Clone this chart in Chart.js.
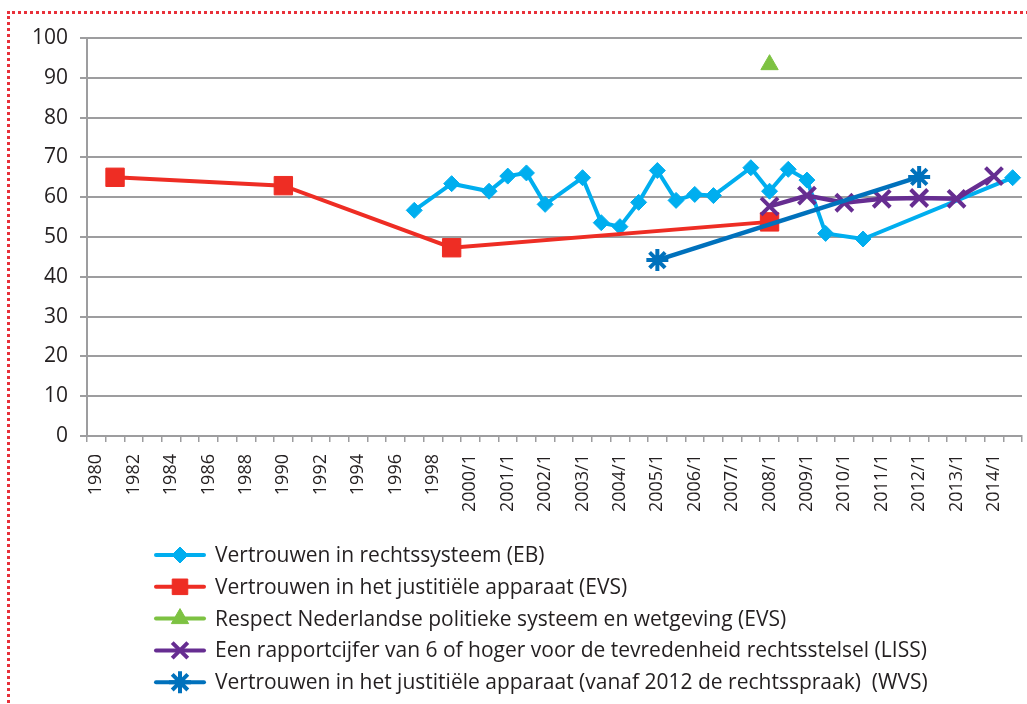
<!DOCTYPE html>
<html><head><meta charset="utf-8">
<script src="https://cdn.jsdelivr.net/npm/chart.js@4.4.0/dist/chart.umd.min.js"></script>
<style>
html,body{margin:0;padding:0;background:#fff;overflow:hidden;width:1027px;height:704px}
#frame{position:absolute;left:7px;top:11px;width:1100px;height:800px;border-top:3px dotted #e8303a;border-left:3px dotted #e8303a;box-sizing:border-box}
#wrap{position:absolute;left:0;top:0;width:1027px;height:704px}
</style></head><body>
<div id="frame"></div>
<div id="wrap"><canvas id="c" width="1027" height="704"></canvas></div>
<script>
// ---- categories (x axis) ----
const categories = ['1980','1981','1982','1983','1984','1985','1986','1987','1988','1989',
  '1990','1991','1992','1993','1994','1995','1996','1997','1998','1999',
  '2000/1','2000/2','2001/1','2001/2','2002/1','2002/2','2003/1','2003/2','2004/1','2004/2',
  '2005/1','2005/2','2006/1','2006/2','2007/1','2007/2','2008/1','2008/2','2009/1','2009/2',
  '2010/1','2010/2','2011/1','2011/2','2012/1','2012/2','2013/1','2013/2','2014/1','2014/2'];
// ---- tick labels shown ----
const tickLabels = ['1980','1982','1984','1986','1988','1990','1992','1994','1996','1998',
  '2000/1','2001/1','2002/1','2003/1','2004/1','2005/1','2006/1','2007/1','2008/1','2009/1',
  '2010/1','2011/1','2012/1','2013/1','2014/1'];
const yTicks = [0,10,20,30,40,50,60,70,80,90,100];

// ---- series ----
const seriesNames = [
  'Vertrouwen in rechtssysteem (EB)',
  'Vertrouwen in het justitiële apparaat (EVS)',
  'Respect Nederlandse politieke systeem en wetgeving (EVS)',
  'Een rapportcijfer van 6 of hoger voor de tevredenheid rechtsstelsel (LISS)',
  'Vertrouwen in het justitiële apparaat (vanaf 2012 de rechtsspraak)  (WVS)'
];
const ebPeriods = ['1997','1999','2000/2','2001/1','2001/2','2002/1','2003/1','2003/2','2004/1','2004/2',
  '2005/1','2005/2','2006/1','2006/2','2007/2','2008/1','2008/2','2009/1','2009/2','2010/2','2014/2'];
const ebValues = [56.7,63.4,61.5,65.3,66.1,58.2,64.9,53.6,52.6,58.7,
  66.7,59.2,60.7,60.4,67.4,61.5,67.0,64.3,50.9,49.5,64.9];
const evsPeriods = ['1981','1990','1999','2008/1'];
const evsValues = [65.0,62.9,47.3,53.8];
const respectPeriods = ['2008/1'];
const respectValues = [93.3];
const lissPeriods = ['2008/1','2009/1','2010/1','2011/1','2012/1','2013/1','2014/1'];
const lissValues = [57.7,60.4,58.6,59.6,59.8,59.6,65.3];
const wvsPeriods = ['2005/1','2012/1'];
const wvsValues = [44.2,65.1];

const pts = (p, v) => p.map((x, i) => ({x: x, y: v[i]}));
const FONT = "'Open Sans', 'DejaVu Sans', sans-serif";
const TXT = '#231f20';
const GRID = '#9d9d9f';

const datasets = [
  {label: seriesNames[0], data: pts(ebPeriods, ebValues), borderColor:'#00aeef', backgroundColor:'#00aeef',
   borderWidth:4, pointStyle:'rectRot', pointRadius:8, pointBorderWidth:1, order:5},
  {label: seriesNames[1], data: pts(evsPeriods, evsValues), borderColor:'#ee2d24', backgroundColor:'#ee2d24',
   borderWidth:4, pointStyle:'rect', pointRadius:13, pointBorderWidth:1, order:4},
  {label: seriesNames[2], data: pts(respectPeriods, respectValues), borderColor:'#7dc242', backgroundColor:'#7dc242',
   borderWidth:4, pointStyle:'triangle', pointRadius:10, pointBorderWidth:1, order:3},
  {label: seriesNames[3], data: pts(lissPeriods, lissValues), borderColor:'#662d91', backgroundColor:'#662d91',
   borderWidth:4.5, pointStyle:'crossRot', pointRadius:12, pointBorderWidth:4, order:2},
  {label: seriesNames[4], data: pts(wvsPeriods, wvsValues), borderColor:'#0071bc', backgroundColor:'#0071bc',
   borderWidth:4.5, pointStyle:'star', pointRadius:11, pointBorderWidth:4, order:1}
];

const legendPlugin = {
  id: 'vlegend',
  afterDraw(chart) {
    const ctx = chart.ctx;
    const x0 = 156, x1 = 204, xm = 180, tx = 215, y0 = 555, dy = 31.8;
    chart.data.datasets.forEach((ds, i) => {
      const y = y0 + i * dy;
      ctx.save();
      ctx.strokeStyle = ds.borderColor;
      ctx.fillStyle = ds.backgroundColor;
      ctx.lineWidth = 4;
      ctx.lineCap = 'round';
      ctx.beginPath(); ctx.moveTo(x0, y); ctx.lineTo(x1, y); ctx.stroke();
      ctx.lineCap = 'butt';
      ctx.lineWidth = ds.pointBorderWidth;
      const r = Math.min(ds.pointRadius, 11);
      if (Chart.helpers && Chart.helpers.drawPoint) {
        Chart.helpers.drawPoint(ctx, {pointStyle: ds.pointStyle, radius: r, rotation: 0, borderWidth: ds.pointBorderWidth}, xm, y);
      } else {
        ctx.beginPath(); ctx.arc(xm, y, 7, 0, Math.PI*2); ctx.fill();
      }
      ctx.fillStyle = TXT;
      ctx.font = '21px ' + FONT;
      ctx.textBaseline = 'middle';
      ctx.textAlign = 'left';
      ctx.fillText(ds.label, tx, y + 1);
      ctx.restore();
    });
  }
};

new Chart(document.getElementById('c'), {
  type: 'line',
  data: {labels: categories, datasets: datasets},
  options: {
    responsive: false,
    animation: false,
    layout: {autoPadding: false, padding: {left: 7, right: 5, top: 38, bottom: 188}},
    plugins: {legend: {display: false}, tooltip: {enabled: false}},
    elements: {line: {tension: 0}},
    scales: {
      x: {
        type: 'category',
        offset: true,
        grid: {offset: true, drawOnChartArea: false, drawTicks: true, tickLength: 6, color: GRID, lineWidth: 1.5},
        border: {color: GRID, width: 2},
        ticks: {
          autoSkip: false, maxRotation: 90, minRotation: 90, padding: 12,
          color: TXT, font: {family: FONT, size: 18},
          callback: function(v, i) { const c = categories[i]; return tickLabels.includes(c) ? c : ''; }
        },
        afterFit(s) { s.height = 80; s.paddingLeft = 0; s.paddingRight = 0; }
      },
      y: {
        min: 0, max: 100,
        afterBuildTicks(s) { s.ticks = yTicks.map(v => ({value: v})); },
        grid: {color: GRID, lineWidth: 2, tickLength: 7, drawTicks: true},
        border: {color: GRID, width: 2},
        ticks: {color: TXT, font: {family: FONT, size: 21}, padding: 12},
        afterFit(s) { s.width = 80; s.paddingTop = 0; s.paddingBottom = 0; }
      }
    }
  },
  plugins: [legendPlugin]
});
</script>
</body></html>
